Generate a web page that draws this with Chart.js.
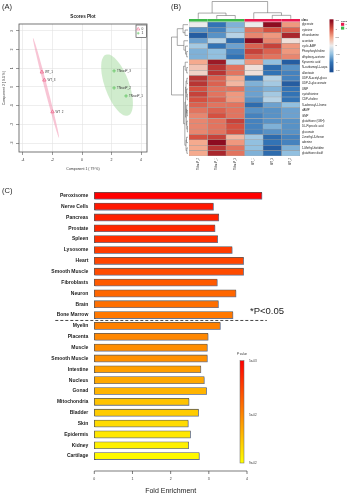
<!DOCTYPE html>
<html lang="en">
<head>
<meta charset="UTF-8">
<title>Metabolite profiling and tissue enrichment</title>
<script src="https://cdn.jsdelivr.net/npm/chart.js@4.4.0/dist/chart.umd.min.js"></script>
<style>
    html, body { margin: 0; padding: 0; background: #fff; }
    body { width: 349px; height: 500px; position: relative; overflow: hidden; font-family: 'Liberation Sans', Arial, sans-serif; }
    canvas { position: absolute; }
    .tag { position: absolute; font-size: 7.5px; line-height: 1; color: #222; z-index: 2; }
</style>
</head>
<body>
<canvas id="scoresChart" width="170" height="175" style="left:0;top:0"></canvas>
<canvas id="heatChart" width="179" height="175" style="left:170px;top:0"></canvas>
<canvas id="enrichChart" width="349" height="325" style="left:0;top:175px"></canvas>
<div class="tag" style="left:2px;top:3px">(A)</div>
<div class="tag" style="left:171px;top:3px">(B)</div>
<div class="tag" style="left:2px;top:187px">(C)</div>

<script>
// ---------- (A) scores plot ----------
const wtNames = ['WT_1', 'WT_2', 'WT_3'];
const wtComp1 = [-2.72, -2.00, -2.55];
const wtComp2 = [0.80, -1.33, 0.37];
const tnNames = ['TNswtP_1', 'TNswtP_2', 'TNswtP_3'];
const tnComp1 = [2.98, 2.17, 2.17];
const tnComp2 = [-0.48, -0.05, 0.86];
const comp1Ticks = [-4, -2, 0, 2, 4];
const comp2Ticks = [-3, -2, -1, 0, 1, 2, 3];
// 95% regions: centre, semi-major and semi-minor vectors in score units
const wtRegion = { c: [-2.44, -0.05], major: [-0.88, 2.67], minor: [0.10, 0.02] };
const tnRegion = { c: [2.37, 0.10], major: [-0.75, 1.63], minor: [0.77, 0.22] };

// ---------- (B) heatmap ----------
const sampleNames = ['TNswtP_2', 'TNswtP_1', 'TNswtP_3', 'WT_1', 'WT_3', 'WT_2'];
const sampleClass = ['1', '1', '1', '0', '0', '0'];
const metabolites = [
    'glycerate', 'cytosine', 'ethanolamine', 'aconitate', 'cyclic-AMP',
    'Phosphorylcholine', 'dihydroxy-acetone', 'Kynurenic acid', 'N-carbamoyl-L-aspa',
    'allantoate', 'UDP-N-acetyl-gluco', 'UDP-D-glucuronate', 'UMP', 'cystathionine',
    'CDP-choline', 'S-adenosyl-L-homo', 'dAMP', 'GMP', 'glutathione (GSH)',
    'DL-Pipecolic acid', 'gluconate', '2-methyl-3-threon', 'adenine',
    '1-Methyl-histidine', 'glutathione disulf'
];
const zScores = [
    [0.0, -1.0, -0.6, 0.0, 1.5, 0.6],
    [-0.8, -0.9, -0.5, 0.8, 1.0, 0.9],
    [-1.3, -0.8, -0.3, 0.7, 0.6, 1.3],
    [-0.7, -0.3, -1.1, 1.5, 0.7, 0.1],
    [-0.4, -1.0, -0.7, 0.9, 1.1, 0.6],
    [-0.6, -0.5, -0.9, 1.1, 0.9, 0.6],
    [-0.6, -0.5, -1.0, 0.9, 0.8, 0.7],
    [0.5, 1.4, -0.3, 0.6, -0.5, -1.3],
    [0.3, 1.2, 0.8, 0.1, -1.1, -0.8],
    [0.2, 1.2, 0.8, 0.1, -1.0, -0.9],
    [1.2, 0.9, 0.5, -1.0, -0.3, -0.9],
    [1.2, 0.9, 0.4, -0.6, -0.4, -1.3],
    [1.0, 0.8, 0.8, -0.7, -0.6, -1.0],
    [1.1, 0.8, 0.6, -0.7, -0.4, -1.0],
    [1.0, 0.9, 0.6, -0.8, -0.3, -1.0],
    [0.9, 0.8, 0.8, -1.1, -0.7, -0.5],
    [0.8, 0.9, 0.8, -0.8, -0.8, -0.7],
    [0.7, 1.0, 0.8, -0.9, -0.8, -0.7],
    [0.7, 0.8, 1.1, -0.9, -0.8, -0.8],
    [0.7, 0.8, 1.0, -0.9, -0.6, -0.8],
    [0.7, 0.8, 1.0, -0.9, -0.8, -0.8],
    [1.0, 1.1, 0.4, -0.4, -1.1, -0.9],
    [0.5, 1.5, 0.6, -0.5, -1.0, -0.9],
    [0.5, 1.2, 0.8, -0.5, -1.3, -0.6],
    [0.5, 1.3, 0.8, -0.6, -1.1, -0.5]
];
const zTicks = [1.5, 1, 0.5, 0, -0.5, -1, -1.5];
// clustering trees: [left, right, height], leaves are indices
const colTree = [[0, [1, 2, 0.19], 0.33], [3, [4, 5, 0.2], 0.35], 1];
const rowTree = [
    [[0, [1, 2, 0.18], 0.3], [3, [4, [5, 6, 0.08], 0.15], 0.25], 0.65],
    [[7, [8, 9, 0.08], 0.17],
     [[[[10, 11, 0.07], [12, [13, 14, 0.05], 0.08], 0.12],
       [[15, [16, 17, 0.05], 0.08], [18, [19, 20, 0.04], 0.07], 0.1], 0.15],
      [[21, 22, 0.09], [23, 24, 0.07], 0.12], 0.19], 0.27],
    1
];

// ---------- (C) tissue enrichment ----------
const tissues = [
    'Peroxisome', 'Nerve Cells', 'Pancreas', 'Prostate', 'Spleen', 'Lysosome',
    'Heart', 'Smooth Muscle', 'Fibroblasts', 'Neuron', 'Brain', 'Bone Marrow',
    'Myelin', 'Placenta', 'Muscle', 'Smooth Muscle', 'Intestine', 'Nucleus',
    'Gonad', 'Mitochondria', 'Bladder', 'Skin', 'Epidermis', 'Kidney', 'Cartilage'
];
const foldEnrichment = [
    4.39, 3.12, 3.26, 3.16, 3.23, 3.61, 3.91, 3.91, 3.22, 3.71, 3.25, 3.63,
    3.30, 2.98, 2.96, 2.96, 2.79, 2.88, 2.94, 2.48, 2.73, 2.46, 2.52, 2.47, 2.75
];
const pValues = [
    0.005, 0.013, 0.016, 0.018, 0.021, 0.025, 0.028, 0.030, 0.035, 0.039, 0.042, 0.045,
    0.048, 0.050, 0.052, 0.053, 0.058, 0.061, 0.065, 0.070, 0.073, 0.078, 0.082, 0.085, 0.088
];
const foldTicks = [0, 1, 2, 3, 4];
const pTicks = [0.005, 0.05, 0.09];
const sigCutIndex = 11; // last term with P<0.05 in the list above

Chart.defaults.font.family = "'Liberation Sans', Arial, sans-serif";
Chart.defaults.color = '#333';

const PINK = '#ee6a8e';
const GREEN = '#5fc45f';

function fixedTicks(values) {
    return scale => { scale.ticks = values.map(v => ({ value: v })); };
}

// ----- scores plot -----
function drawRegion(ctx, sx, sy, r, fill) {
    ctx.beginPath();
    for (let k = 0; k <= 72; k++) {
        const t = k / 72 * Math.PI * 2;
        const vx = r.c[0] + Math.cos(t) * r.major[0] + Math.sin(t) * r.minor[0];
        const vy = r.c[1] + Math.cos(t) * r.major[1] + Math.sin(t) * r.minor[1];
        const px = sx.getPixelForValue(vx), py = sy.getPixelForValue(vy);
        k === 0 ? ctx.moveTo(px, py) : ctx.lineTo(px, py);
    }
    ctx.closePath();
    ctx.fillStyle = fill;
    ctx.fill();
}

const scoresDecor = {
    id: 'scoresDecor',
    beforeDatasetsDraw(chart) {
        const { ctx, scales: { x, y } } = chart;
        ctx.save();
        drawRegion(ctx, x, y, wtRegion, 'rgba(243,150,178,0.55)');
        drawRegion(ctx, x, y, tnRegion, 'rgba(150,212,145,0.45)');
        ctx.restore();
    },
    afterDatasetsDraw(chart) {
        const { ctx } = chart;
        const names = [wtNames, tnNames];
        ctx.save();
        ctx.font = "3px 'Liberation Sans', Arial, sans-serif";
        ctx.fillStyle = '#333';
        ctx.textBaseline = 'middle';
        names.forEach((list, d) => {
            chart.getDatasetMeta(d).data.forEach((pt, i) => ctx.fillText(list[i], pt.x + 3, pt.y));
        });
        ctx.restore();
    },
    afterDraw(chart) {
        const { ctx, chartArea: a, scales: { y } } = chart;
        ctx.save();
        // frame
        ctx.strokeStyle = '#555';
        ctx.lineWidth = 0.8;
        ctx.strokeRect(a.left, a.top, a.right - a.left, a.bottom - a.top);
        // title
        ctx.fillStyle = '#222';
        ctx.font = "bold 4.6px 'Liberation Sans', Arial, sans-serif";
        ctx.textAlign = 'center';
        ctx.textBaseline = 'middle';
        ctx.fillText('Scores Plot', (a.left + a.right) / 2, 17);
        // rotated y tick labels
        ctx.font = "3.5px 'Liberation Sans', Arial, sans-serif";
        ctx.fillStyle = '#333';
        comp2Ticks.forEach(v => {
            ctx.save();
            ctx.translate(a.left - 6.5, y.getPixelForValue(v));
            ctx.rotate(-Math.PI / 2);
            ctx.fillText(String(v), 0, 0);
            ctx.restore();
        });
        // legend
        const lx = a.right - 11, ly = a.top + 1;
        ctx.fillStyle = '#fff';
        ctx.fillRect(lx, ly, 10.5, 12.5);
        ctx.strokeStyle = '#333';
        ctx.lineWidth = 0.6;
        ctx.strokeRect(lx, ly, 10.5, 12.5);
        ctx.textAlign = 'left';
        ctx.font = "3.3px 'Liberation Sans', Arial, sans-serif";
        ctx.fillStyle = '#333';
        ctx.fillText(chart.data.datasets[0].label, lx + 5.5, ly + 3.6);
        ctx.fillText(chart.data.datasets[1].label, lx + 5.5, ly + 8.2);
        ctx.strokeStyle = PINK;
        ctx.beginPath();
        ctx.moveTo(lx + 2.2, ly + 2.3); ctx.lineTo(lx + 3.8, ly + 5); ctx.lineTo(lx + 0.6, ly + 5); ctx.closePath();
        ctx.stroke();
        ctx.strokeStyle = GREEN;
        ctx.beginPath();
        ctx.moveTo(lx + 0.8, ly + 8.2); ctx.lineTo(lx + 3.6, ly + 8.2);
        ctx.moveTo(lx + 2.2, ly + 6.8); ctx.lineTo(lx + 2.2, ly + 9.6);
        ctx.stroke();
        ctx.restore();
    }
};

new Chart(document.getElementById('scoresChart'), {
    type: 'scatter',
    data: {
        datasets: [
            {
                label: '0',
                data: wtComp1.map((v, i) => ({ x: v, y: wtComp2[i] })),
                pointStyle: 'triangle', radius: 2, borderWidth: 0.8,
                borderColor: PINK, backgroundColor: 'rgba(255,255,255,0)'
            },
            {
                label: '1',
                data: tnComp1.map((v, i) => ({ x: v, y: tnComp2[i] })),
                pointStyle: 'cross', radius: 1.8, borderWidth: 0.8,
                borderColor: GREEN, backgroundColor: GREEN
            }
        ]
    },
    options: {
        responsive: false,
        animation: false,
        events: [],
        layout: { padding: { left: 0, top: 24, right: 23, bottom: 0 } },
        plugins: { legend: { display: false }, tooltip: { enabled: false } },
        scales: {
            x: {
                type: 'linear', min: -4.27, max: 4.4,
                afterBuildTicks: fixedTicks(comp1Ticks),
                afterFit: s => { s.height = 23; },
                grid: { color: '#e2e2e2', tickColor: '#555', tickLength: 3, lineWidth: 0.6 },
                border: { display: false },
                ticks: { font: { size: 3.5 }, color: '#333', padding: 2.5 },
                title: { display: true, text: 'Component 1 ( 79 %)', font: { size: 3.5 }, color: '#333', padding: { top: 0, bottom: 4 } }
            },
            y: {
                type: 'linear', min: -3.48, max: 3.37,
                afterBuildTicks: fixedTicks(comp2Ticks),
                afterFit: s => { s.width = 19; },
                grid: { color: '#e2e2e2', tickColor: '#555', tickLength: 3, lineWidth: 0.6 },
                border: { display: false },
                ticks: { display: false },
                title: { display: true, text: 'Component 2 ( 9.1 %)', font: { size: 3.5 }, color: '#333', padding: { top: 2, bottom: 0 } }
            }
        }
    },
    plugins: [scoresDecor]
});

// ----- heatmap -----
const heatStops = [
    [-1.5, [28, 79, 148]], [-1, [50, 115, 181]], [-0.5, [146, 192, 224]], [0, [236, 236, 236]],
    [0.5, [245, 170, 142]], [1, [213, 80, 64]], [1.5, [140, 12, 32]]
];
function heatColor(v) {
    v = Math.max(-1.5, Math.min(1.5, v));
    for (let i = 1; i < heatStops.length; i++) {
        const [v0, c0] = heatStops[i - 1], [v1, c1] = heatStops[i];
        if (v <= v1) {
            const t = (v - v0) / (v1 - v0);
            return 'rgb(' + c0.map((c, k) => Math.round(c + (c1[k] - c) * t)).join(',') + ')';
        }
    }
}
const classColor = { '0': '#e8194e', '1': '#3db74a' };

function drawTree(ctx, node, leafPos, level, horizontal) {
    if (typeof node === 'number') return { pos: leafPos(node), lvl: level(0) };
    const a = drawTree(ctx, node[0], leafPos, level, horizontal);
    const b = drawTree(ctx, node[1], leafPos, level, horizontal);
    const lvl = level(node[2]);
    ctx.beginPath();
    if (horizontal) {
        ctx.moveTo(a.pos, a.lvl); ctx.lineTo(a.pos, lvl); ctx.lineTo(b.pos, lvl); ctx.lineTo(b.pos, b.lvl);
    } else {
        ctx.moveTo(a.lvl, a.pos); ctx.lineTo(lvl, a.pos); ctx.lineTo(lvl, b.pos); ctx.lineTo(b.lvl, b.pos);
    }
    ctx.stroke();
    return { pos: (a.pos + b.pos) / 2, lvl };
}

const heatDecor = {
    id: 'heatDecor',
    afterDraw(chart) {
        const { ctx, chartArea: a, scales: { x, y } } = chart;
        ctx.save();
        ctx.strokeStyle = '#555';
        ctx.lineWidth = 0.5;
        // sample tree and class strip
        drawTree(ctx, colTree, i => x.getPixelForValue(i + 0.5), h => a.top - 3.2 - h * 17.3, true);
        sampleClass.forEach((c, i) => {
            ctx.fillStyle = classColor[c];
            ctx.fillRect(x.getPixelForValue(i), a.top - 3, x.getPixelForValue(i + 1) - x.getPixelForValue(i), 2.6);
        });
        // metabolite tree
        drawTree(ctx, rowTree, i => y.getPixelForValue(i), h => a.left - 1 - h * 16.5, false);
        ctx.fillStyle = '#222';
        ctx.font = "bold 2.6px 'Liberation Sans', Arial, sans-serif";
        ctx.textBaseline = 'middle';
        ctx.fillText('class', a.right + 1.5, a.top - 1.7);
        // colour key
        const kx = 159.5, kTop = 19.3, kBot = 72.3;
        const keyY = v => 20.7 + (1.5 - v) / 3 * 50;
        const grad = ctx.createLinearGradient(0, kTop, 0, kBot);
        heatStops.forEach(([v, c]) => grad.addColorStop(Math.min(1, Math.max(0, (keyY(v) - kTop) / (kBot - kTop))), 'rgb(' + c.join(',') + ')'));
        ctx.fillStyle = grad;
        ctx.fillRect(kx, kTop, 4, kBot - kTop);
        ctx.fillStyle = '#333';
        ctx.font = "2.4px 'Liberation Sans', Arial, sans-serif";
        zTicks.forEach(v => ctx.fillText(String(v), kx + 6, keyY(v)));
        // class key
        ctx.font = "bold 2.4px 'Liberation Sans', Arial, sans-serif";
        ctx.fillText('class', 171, 21);
        ['0', '1'].forEach((c, i) => {
            ctx.fillStyle = classColor[c];
            ctx.fillRect(171, 22.8 + i * 3.8, 3.2, 3);
            ctx.fillStyle = '#333';
            ctx.font = "2.4px 'Liberation Sans', Arial, sans-serif";
            ctx.fillText(c, 175.5, 24.3 + i * 3.8);
        });
        ctx.restore();
    }
};

new Chart(document.getElementById('heatChart'), {
    type: 'bar',
    data: {
        labels: metabolites,
        datasets: sampleNames.map((name, j) => ({
            label: name,
            data: metabolites.map(() => [j, j + 1]),
            backgroundColor: zScores.map(row => heatColor(row[j])),
            borderColor: '#9c9c9c',
            borderWidth: 0.5,
            borderSkipped: false,
            barPercentage: 1,
            categoryPercentage: 1,
            grouped: false
        }))
    },
    options: {
        indexAxis: 'y',
        responsive: false,
        animation: false,
        events: [],
        layout: { padding: { left: 19, top: 22, right: 0, bottom: 0 } },
        plugins: { legend: { display: false }, tooltip: { enabled: false } },
        scales: {
            x: {
                type: 'linear', min: 0, max: 6,
                afterBuildTicks: fixedTicks(sampleNames.map((n, i) => i + 0.5)),
                afterFit: s => { s.height = 19; },
                grid: { display: false, drawTicks: false },
                border: { display: false },
                ticks: { callback: (v, i) => sampleNames[i], minRotation: 90, maxRotation: 90, font: { size: 2.6 }, color: '#333', padding: 2 }
            },
            y: {
                type: 'category', position: 'right',
                afterFit: s => { s.width = 49; },
                grid: { display: false, drawTicks: false },
                border: { display: false },
                ticks: { font: { size: 2.8 }, color: '#222', padding: 2, autoSkip: false }
            }
        }
    },
    plugins: [heatDecor]
});

// ----- enrichment bars -----
function pColor(p) {
    const t = Math.min(1, Math.max(0, (p - 0.005) / 0.085));
    return 'rgb(255,' + Math.round(255 * t) + ',0)';
}
function fmtP(p) {
    const e = Math.floor(Math.log10(p) + 1e-9);
    const m = Math.round(p / Math.pow(10, e));
    return m + 'e-' + String(-e).padStart(2, '0');
}

const enrichDecor = {
    id: 'enrichDecor',
    beforeDatasetDraw(chart) {
        const ctx = chart.ctx;
        ctx.save();
        ctx.shadowColor = 'rgba(120,140,185,0.55)';
        ctx.shadowOffsetX = 1;
        ctx.shadowOffsetY = 1;
    },
    afterDatasetDraw(chart) {
        chart.ctx.restore();
    },
    afterDraw(chart) {
        const { ctx, chartArea: a, scales: { x, y } } = chart;
        ctx.save();
        // fold enrichment axis
        const axisY = a.bottom + 9.5;
        ctx.strokeStyle = '#444';
        ctx.lineWidth = 0.7;
        ctx.beginPath();
        ctx.moveTo(x.getPixelForValue(foldTicks[0]), axisY);
        ctx.lineTo(x.getPixelForValue(foldTicks[foldTicks.length - 1]), axisY);
        foldTicks.forEach(v => {
            ctx.moveTo(x.getPixelForValue(v), axisY);
            ctx.lineTo(x.getPixelForValue(v), axisY + 3);
        });
        ctx.stroke();
        // significance cut
        const cutY = (y.getPixelForValue(sigCutIndex) + y.getPixelForValue(sigCutIndex + 1)) / 2;
        ctx.strokeStyle = '#333';
        ctx.lineWidth = 0.9;
        ctx.setLineDash([3, 2]);
        ctx.beginPath();
        ctx.moveTo(a.left - 39, cutY);
        ctx.lineTo(x.getPixelForValue(4.52), cutY);
        ctx.stroke();
        ctx.setLineDash([]);
        ctx.fillStyle = '#222';
        ctx.font = "9.5px 'Liberation Sans', Arial, sans-serif";
        ctx.textBaseline = 'alphabetic';
        ctx.fillText('*P<0.05', 250, cutY - 6.5);
        // P value colour key
        const kx = 240, kTop = 185.7, kBot = 288;
        const keyY = p => kTop + (p - pTicks[0]) / (pTicks[pTicks.length - 1] - pTicks[0]) * (kBot - kTop);
        const grad = ctx.createLinearGradient(0, kTop, 0, kBot);
        for (let k = 0; k <= 10; k++) {
            grad.addColorStop(k / 10, pColor(pTicks[0] + k / 10 * (pTicks[pTicks.length - 1] - pTicks[0])));
        }
        ctx.fillStyle = grad;
        ctx.fillRect(kx, kTop, 4, kBot - kTop);
        ctx.strokeStyle = '#666';
        ctx.lineWidth = 0.5;
        ctx.strokeRect(kx, kTop, 4, kBot - kTop);
        ctx.fillStyle = '#333';
        ctx.font = "3px 'Liberation Sans', Arial, sans-serif";
        ctx.textBaseline = 'middle';
        ctx.textAlign = 'center';
        ctx.fillText('P value', kx + 2, kTop - 6.5);
        ctx.textAlign = 'left';
        pTicks.forEach(p => ctx.fillText(fmtP(p), kx + 9, keyY(p)));
        ctx.restore();
    }
};

new Chart(document.getElementById('enrichChart'), {
    type: 'bar',
    data: {
        labels: tissues,
        datasets: [{
            data: foldEnrichment,
            backgroundColor: pValues.map(pColor),
            borderColor: '#5a5a5a',
            borderWidth: 0.8,
            borderSkipped: false,
            barThickness: 7,
            clip: false
        }]
    },
    options: {
        indexAxis: 'y',
        responsive: false,
        animation: false,
        events: [],
        layout: { padding: { left: 0, top: 15.3, right: 102, bottom: 0 } },
        plugins: { legend: { display: false }, tooltip: { enabled: false } },
        scales: {
            x: {
                type: 'linear', min: 0, max: 4,
                afterBuildTicks: fixedTicks(foldTicks),
                afterFit: s => { s.height = 38.5; },
                grid: { display: false, drawTicks: false },
                border: { display: false },
                ticks: { font: { size: 3.5 }, color: '#333', padding: 15.5 },
                title: { display: true, text: 'Fold Enrichment', font: { size: 7 }, color: '#222', padding: { top: 0, bottom: 5 } }
            },
            y: {
                afterFit: s => { s.width = 94.3; },
                grid: { display: false, drawTicks: false },
                border: { display: false },
                ticks: { font: { size: 5, weight: 'bold' }, color: '#222', padding: 6, autoSkip: false }
            }
        }
    },
    plugins: [enrichDecor]
});
</script>
</body>
</html>
